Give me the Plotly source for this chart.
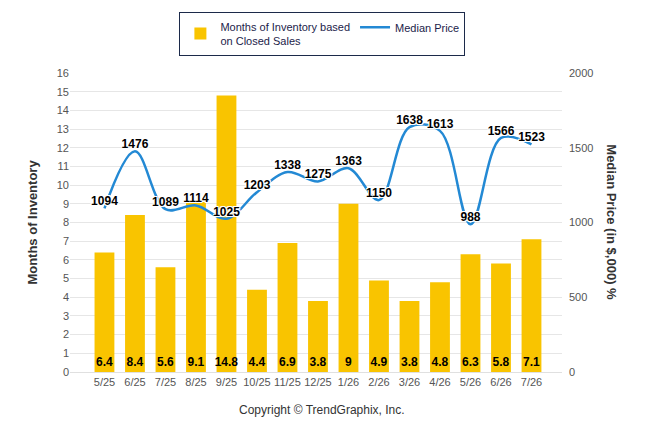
import plotly.graph_objects as go

months = ["5/25", "6/25", "7/25", "8/25", "9/25", "10/25", "11/25", "12/25",
          "1/26", "2/26", "3/26", "4/26", "5/26", "6/26", "7/26"]
inventory = [6.4, 8.4, 5.6, 9.1, 14.8, 4.4, 6.9, 3.8, 9, 4.9, 3.8, 4.8, 6.3, 5.8, 7.1]
median_price = [1094, 1476, 1089, 1114, 1025, 1203, 1338, 1275, 1363, 1150,
                1638, 1613, 988, 1566, 1523]

FONT = "Liberation Sans"
halo = "1px 1px 0 #fff, -1px -1px 0 #fff, 1px -1px 0 #fff, -1px 1px 0 #fff"

fig = go.Figure()

fig.add_trace(go.Bar(
    x=months, y=inventory,
    name="Months of Inventory based<br>on Closed Sales",
    marker=dict(color="#F9C400", line=dict(width=0)),
    text=[str(v) for v in inventory],
    textposition="inside", insidetextanchor="start",
    textangle=0, constraintext="none",
    textfont=dict(family=FONT, size=12, color="#000", weight="bold"),
    yaxis="y",
))

fig.add_trace(go.Scatter(
    x=months, y=median_price,
    name="Median Price",
    mode="lines+text",
    line=dict(color="#2389D4", width=2.5, shape="spline", smoothing=1),
    text=[str(v) for v in median_price],
    textposition="top center",
    textfont=dict(family=FONT, size=12, color="#000", weight="bold", shadow=halo),
    yaxis="y2",
    cliponaxis=False,
))

# page body has an 8px default margin, so margins are offset to compensate
fig.update_layout(
    width=646, height=434,
    margin=dict(l=62, r=92, t=65, b=70, autoexpand=False),
    paper_bgcolor="white", plot_bgcolor="white",
    font=dict(family=FONT, size=11, color="#555"),
    bargap=0.35,
    uniformtext=dict(minsize=12, mode="show"),
    showlegend=True,
    legend=dict(
        orientation="h", x=0.513, xanchor="center", y=1.205, yanchor="top",
        bordercolor="#1c2a4a", borderwidth=1, bgcolor="white",
        font=dict(family=FONT, size=11, color="#1c1c4a"),
        itemwidth=30, tracegroupgap=0,
    ),
    xaxis=dict(
        type="category", range=[-1.13, 15.0],
        showgrid=False, showline=True, linecolor="#e0e0e0",
        ticks="", tickfont=dict(size=11, color="#555"),
    ),
    yaxis=dict(
        range=[0, 16], dtick=1, showgrid=True, gridcolor="#e6e6e6",
        zeroline=False, ticks="", tickfont=dict(size=11, color="#555"),
        title=dict(text="Months of Inventory",
                   font=dict(family=FONT, size=13, color="#333", weight="bold"),
                   standoff=16),
    ),
    yaxis2=dict(
        range=[0, 2000], dtick=500, overlaying="y", side="right",
        showgrid=False, zeroline=False, ticks="", ticklabelstandoff=6,
        tickfont=dict(size=11, color="#555"),
    ),
    annotations=[
        dict(text="Median Price (in $,000) %", textangle=90,
             xref="paper", yref="paper", x=1.10, y=0.5,
             xanchor="center", yanchor="middle", showarrow=False,
             font=dict(family=FONT, size=13, color="#333", weight="bold")),
        dict(text="Copyright © TrendGraphix, Inc.",
             xref="paper", yref="paper", x=0.513, y=-0.127,
             xanchor="center", yanchor="middle", showarrow=False,
             font=dict(family=FONT, size=12, color="#333")),
    ],
)

fig.write_html("out.html")
